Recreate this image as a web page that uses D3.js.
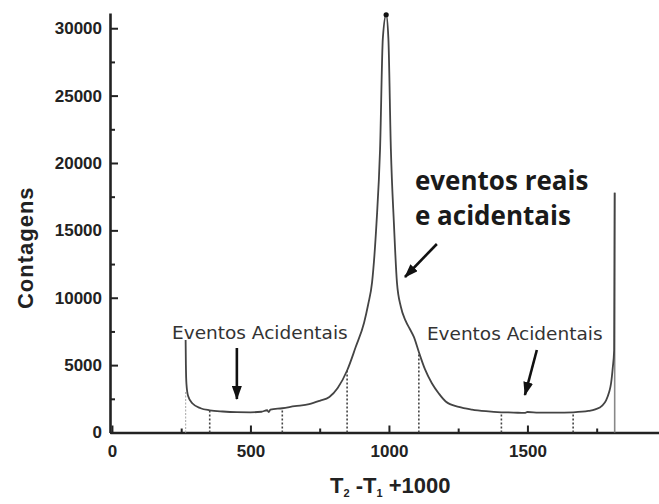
<!DOCTYPE html>
<html>
<head>
<meta charset="utf-8">
<script src="https://cdn.jsdelivr.net/npm/d3@7"></script>
<style>
  html, body { margin: 0; padding: 0; background: #fff; }
  svg { display: block; }
</style>
</head>
<body>
<svg id="chart" width="659" height="504"></svg>
<script>
// ---- data ----
const channelX = [266, 267, 269, 275, 291, 320, 353, 400, 450, 500, 540, 560, 566, 572, 615, 660, 712, 750, 785, 815, 849, 880, 910, 925, 939, 955, 968, 978, 990, 998, 1007, 1018, 1029, 1043, 1060, 1075, 1090, 1108, 1130, 1155, 1180, 1205, 1252, 1300, 1350, 1406, 1450, 1490, 1500, 1540, 1600, 1665, 1720, 1745, 1770, 1784, 1795, 1802, 1808, 1813, 1815];
const counts = [6870, 5000, 3600, 2700, 2150, 1800, 1650, 1560, 1510, 1500, 1540, 1650, 1520, 1700, 1800, 1950, 2100, 2350, 2630, 3300, 4600, 6340, 8130, 9500, 11120, 15500, 21040, 29250, 31000, 29250, 21040, 15500, 11120, 9330, 8300, 7700, 7090, 5970, 4700, 3660, 2900, 2300, 1900, 1700, 1580, 1500, 1480, 1450, 1520, 1480, 1470, 1500, 1600, 1720, 2000, 2390, 3000, 3660, 4800, 6100, 17800];

const windowX = [353, 615, 849, 1108, 1406, 1665];
const windowTop = [1600, 1800, 4600, 5970, 1450, 1450];
const leftEdgeX = 266, leftEdgeTop = 3100;
const rightEdgeX = 1815, rightEdgeTop = 17800;

const xMajorTicks = [0, 500, 1000, 1500];
const xMinorTicks = [250, 750, 1250, 1750];
const yMajorTicks = [0, 5000, 10000, 15000, 20000, 25000, 30000];
const yMinorTicks = [2500, 7500, 12500, 17500, 22500, 27500];

const xTitle = ["T", "2", " -T", "1", " +1000"];
const yTitle = "Contagens";

const labelTexts = ["Eventos Acidentais", "Eventos Acidentais"];
const labelX = [217, 1137];
const labelY = [6940, 6865];
const mainLabelLines = ["eventos reais", "e acidentais"];
const mainLabelX = 1094;
const mainLabelY = [17997, 15400];

const arrowFrom = [[451, 6271], [1534, 6123], [1173, 13990]];
const arrowTo = [[451, 2486], [1491, 2783], [1058, 11541]];

// ---- scales ----
const svg = d3.select("#chart");
const x = d3.scaleLinear().domain([-7, 1975]).range([110, 659]);
const y = d3.scaleLinear().domain([0, 31130]).range([432.5, 13]);

const tickFont = "'Liberation Sans', Arial, sans-serif";

// ---- axes ----
const gx = svg.append("g").attr("transform", `translate(0,${y(0)})`);
gx.call(d3.axisBottom(x).tickValues(xMajorTicks).tickSizeInner(-7).tickSizeOuter(0).tickPadding(12).tickFormat(d3.format("d")));
const gxm = svg.append("g").attr("transform", `translate(0,${y(0)})`);
gxm.call(d3.axisBottom(x).tickValues(xMinorTicks).tickSizeInner(-4).tickSizeOuter(0).tickFormat(""));
gxm.select(".domain").remove();

const gy = svg.append("g").attr("transform", `translate(${x(-7)},0)`);
gy.call(d3.axisLeft(y).tickValues(yMajorTicks).tickSizeInner(-8).tickSizeOuter(0).tickPadding(8).tickFormat(d3.format("d")));
const gym = svg.append("g").attr("transform", `translate(${x(-7)},0)`);
gym.call(d3.axisLeft(y).tickValues(yMinorTicks).tickSizeInner(-5).tickSizeOuter(0).tickFormat(""));
gym.select(".domain").remove();

svg.selectAll(".domain").attr("stroke", "#222").attr("stroke-width", 2.6);
svg.selectAll(".tick line").attr("stroke", "#222").attr("stroke-width", 2);
svg.selectAll(".tick text")
  .attr("font-family", tickFont).attr("font-weight", "bold")
  .attr("font-size", 17).attr("fill", "#222");

// ---- window lines ----
svg.append("line")
  .attr("x1", x(leftEdgeX)).attr("x2", x(leftEdgeX))
  .attr("y1", y(0)).attr("y2", y(leftEdgeTop))
  .attr("stroke", "#b5b5b5").attr("stroke-width", 1.2).attr("stroke-dasharray", "2,1.5");

svg.selectAll("line.win").data(windowX).join("line")
  .attr("class", "win")
  .attr("x1", d => x(d)).attr("x2", d => x(d))
  .attr("y1", y(0)).attr("y2", (d, i) => y(windowTop[i]))
  .attr("stroke", "#444").attr("stroke-width", 1.6).attr("stroke-dasharray", "2,2");

svg.append("line")
  .attr("x1", x(rightEdgeX)).attr("x2", x(rightEdgeX))
  .attr("y1", y(0)).attr("y2", y(rightEdgeTop))
  .attr("stroke", "#888").attr("stroke-width", 1.6);

// ---- spectrum curve ----
const pts = channelX.map((d, i) => [d, counts[i]]);
svg.append("path")
  .datum(pts)
  .attr("fill", "none")
  .attr("stroke", "#444")
  .attr("stroke-width", 1.8)
  .attr("d", d3.line().x(d => x(d[0])).y(d => y(d[1])).curve(d3.curveMonotoneX));

const peakIdx = d3.maxIndex(counts);
svg.append("circle")
  .attr("cx", x(channelX[peakIdx])).attr("cy", y(counts[peakIdx]))
  .attr("r", 2.6).attr("fill", "#111");

// ---- annotations ----
const defs = svg.append("defs");
defs.append("marker")
  .attr("id", "ah").attr("markerUnits", "userSpaceOnUse")
  .attr("viewBox", "0 0 14 10").attr("refX", 13).attr("refY", 5)
  .attr("markerWidth", 14).attr("markerHeight", 10).attr("orient", "auto")
  .append("path").attr("d", "M0,0 L14,5 L0,10 Z").attr("fill", "#111");

svg.selectAll("line.arrow").data(arrowFrom).join("line")
  .attr("class", "arrow")
  .attr("x1", d => x(d[0])).attr("y1", d => y(d[1]))
  .attr("x2", (d, i) => x(arrowTo[i][0])).attr("y2", (d, i) => y(arrowTo[i][1]))
  .attr("stroke", "#111").attr("stroke-width", 2.6)
  .attr("marker-end", "url(#ah)");

svg.selectAll("text.ev").data(labelTexts).join("text")
  .attr("class", "ev")
  .attr("x", (d, i) => x(labelX[i])).attr("y", (d, i) => y(labelY[i]))
  .attr("font-family", "'DejaVu Sans', Verdana, sans-serif")
  .attr("font-size", 18.5).attr("fill", "#333")
  .text(d => d);

svg.selectAll("text.main").data(mainLabelLines).join("text")
  .attr("class", "main")
  .attr("x", x(mainLabelX)).attr("y", (d, i) => y(mainLabelY[i]))
  .attr("font-family", "'Open Sans', sans-serif").attr("font-weight", "bold")
  .attr("font-size", 26).attr("fill", "#1a1a1a")
  .text(d => d);

// ---- axis titles ----
svg.append("text")
  .attr("transform", `translate(33,${(y(0) + y(31130)) / 2 + 25}) rotate(-90)`)
  .attr("text-anchor", "middle")
  .attr("font-family", tickFont).attr("font-weight", "bold")
  .attr("font-size", 22).attr("letter-spacing", 1).attr("fill", "#222")
  .text(yTitle);

const xt = svg.append("text")
  .attr("x", 330).attr("y", 493)
  .attr("font-family", tickFont).attr("font-weight", "bold")
  .attr("font-size", 22).attr("fill", "#222");
xTitle.forEach((s, i) => {
  const sub = i === 1 || i === 3;
  xt.append("tspan")
    .attr("font-size", sub ? 11 : 22)
    .attr("dy", sub ? 4 : (i === 0 ? 0 : -4))
    .text(s);
});
</script>
</body>
</html>
